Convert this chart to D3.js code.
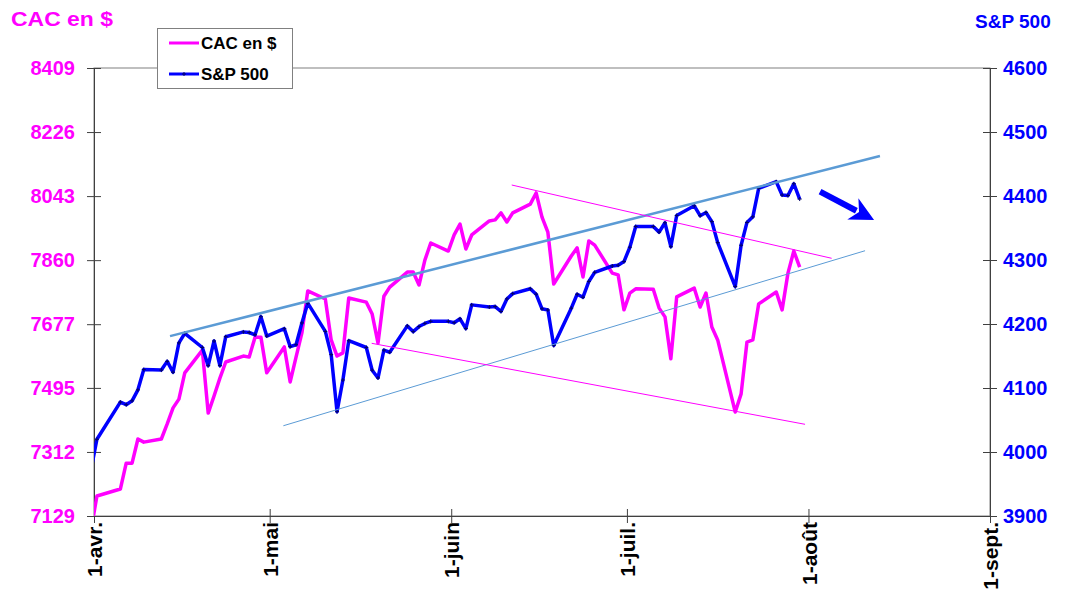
<!DOCTYPE html>
<html>
<head>
<meta charset="utf-8">
<script src="https://d3js.org/d3.v7.min.js"></script>
<style>
  body { margin: 0; background: #fff; }
  svg { display: block; font-family: Arial, 'Liberation Sans', sans-serif; }
</style>
</head>
<body>
<svg id="chart" width="1068" height="594"></svg>
<script>
// séances (union Paris / New York), mars -> juillet 2021
const dates = [
  '2021-03-31', '2021-04-01', '2021-04-05', '2021-04-06', '2021-04-07', '2021-04-08', '2021-04-09',
  '2021-04-12', '2021-04-13', '2021-04-14', '2021-04-15', '2021-04-16', '2021-04-19', '2021-04-20',
  '2021-04-21', '2021-04-22', '2021-04-23', '2021-04-26', '2021-04-27', '2021-04-28', '2021-04-29',
  '2021-04-30', '2021-05-03', '2021-05-04', '2021-05-05', '2021-05-06', '2021-05-07', '2021-05-10',
  '2021-05-11', '2021-05-12', '2021-05-13', '2021-05-14', '2021-05-17', '2021-05-18', '2021-05-19',
  '2021-05-20', '2021-05-21', '2021-05-24', '2021-05-25', '2021-05-26', '2021-05-27', '2021-05-28',
  '2021-05-31', '2021-06-01', '2021-06-02', '2021-06-03', '2021-06-04', '2021-06-07', '2021-06-08',
  '2021-06-09', '2021-06-10', '2021-06-11', '2021-06-14', '2021-06-15', '2021-06-16', '2021-06-17',
  '2021-06-18', '2021-06-21', '2021-06-22', '2021-06-23', '2021-06-24', '2021-06-25', '2021-06-28',
  '2021-06-29', '2021-06-30', '2021-07-01', '2021-07-02', '2021-07-05', '2021-07-06', '2021-07-07',
  '2021-07-08', '2021-07-09', '2021-07-12', '2021-07-13', '2021-07-14', '2021-07-15', '2021-07-16',
  '2021-07-19', '2021-07-20', '2021-07-21', '2021-07-22', '2021-07-23', '2021-07-26', '2021-07-27',
  '2021-07-28', '2021-07-29', '2021-07-30',
]

const cacUsd = [
  7090, 7186, 7206, 7280, 7280, 7349, 7340,
  7349, 7392, 7438, 7463, 7538, 7603, 7423,
  7472, 7523, 7569, 7586, 7583, 7640, 7640,
  7538, 7612, 7512, 7583, 7652, 7772, 7749,
  7632, 7586, 7595, 7752, 7740, 7706, 7623,
  7757, 7783, 7826, 7826, 7789, 7860, 7909,
  7886, 7932, 7963, 7892, 7932, 7972, 7975,
  7995, 7969, 7995, 8020, 8052, 7983, 7940,
  7792, 7872, 7895, 7812, 7915, 7903, 7823,
  7818, 7718, 7766, 7778, 7777, 7723, 7698,
  7578, 7755, 7780, 7726, 7766, 7669, 7632,
  7426, 7478, 7626, 7632, 7735, 7769, 7718,
  7823, 7886, 7840,
]

const sp500 = [
  3972.89, 4019.87, 4077.91, 4073.94, 4079.95, 4097.17, 4128.80,
  4127.99, 4141.59, 4124.66, 4170.42, 4185.47, 4163.26, 4134.94,
  4173.42, 4134.98, 4180.17, 4187.62, 4186.72, 4183.18, 4211.47,
  4181.17, 4192.66, 4164.66, 4167.59, 4201.62, 4232.60, 4188.43,
  4152.10, 4063.04, 4112.50, 4173.85, 4163.29, 4127.83, 4115.68,
  4159.12, 4155.86, 4197.05, 4188.13, 4195.99, 4200.88, 4204.11,
  4204.11, 4202.04, 4208.12, 4192.85, 4229.89, 4226.52, 4227.26,
  4219.55, 4239.18, 4247.44, 4255.15, 4246.59, 4223.70, 4221.86,
  4166.45, 4224.79, 4246.44, 4241.84, 4266.49, 4280.70, 4290.61,
  4291.80, 4297.50, 4319.94, 4352.34, 4352.34, 4343.54, 4358.13,
  4320.82, 4369.55, 4384.63, 4369.21, 4374.30, 4360.03, 4327.16,
  4258.49, 4323.06, 4358.69, 4367.48, 4411.79, 4422.30, 4401.46,
  4400.64, 4419.15, 4395.26,
]

const cacTicks = [7129, 7312, 7495, 7677, 7860, 8043, 8226, 8409]
const spTicks = [3900, 4000, 4100, 4200, 4300, 4400, 4500, 4600]
const monthTicks = ['2021-04-01', '2021-05-01', '2021-06-01', '2021-07-01', '2021-08-01', '2021-09-01']
const monthLabels = ['1-avr.', '1-mai', '1-juin', '1-juil.', '1-août', '1-sept.']

// tendances tracées à la main sur le graphique : [date, valeur]
const spTrendUpper = [['2021-04-13T23:30', 4181], ['2021-08-13T05:00', 4462.5]]
const spTrendLower = [['2021-05-03T08:00', 4041], ['2021-08-10T16:00', 4314.5]]
const cacTrendUpper = [['2021-06-11T08:00', 8074.7], ['2021-08-04T23:00', 7865.3]]
const cacTrendLower = [['2021-05-18T10:00', 7622.4], ['2021-07-31T10:00', 7391]]
const spArrow = [['2021-08-02T23:30', 4406.7], ['2021-08-12T05:00', 4362.5]]

const PINK = '#ff00ff'
const BLUE = '#0000ff'

const margin = { top: 68, right: 78, bottom: 78, left: 94 }
const width = 1068
const height = 594
const innerW = width - margin.left - margin.right
const innerH = height - margin.top - margin.bottom

const parseDay = d3.timeParse('%Y-%m-%d')
const parseTime = d3.timeParse('%Y-%m-%dT%H:%M')

const svg = d3.select('#chart')

const x = d3.scaleTime()
  .domain([parseDay('2021-04-01'), parseDay('2021-09-01')])
  .range([margin.left, margin.left + innerW])
const yCac = d3.scaleLinear().domain([7129, 8409]).range([margin.top + innerH, margin.top])
const ySp = d3.scaleLinear().domain([3900, 4600]).range([margin.top + innerH, margin.top])

// excel place chaque point au milieu de sa journée
const mid = d => d3.timeHour.offset(d, 12)

const rows = dates.map((d, i) => ({ date: parseDay(d), cac: cacUsd[i], sp: sp500[i] }))

svg.append('defs').append('clipPath')
  .attr('id', 'plot-clip')
  .append('rect')
  .attr('x', margin.left)
  .attr('y', margin.top)
  .attr('width', innerW)
  .attr('height', innerH)

// cadre de la zone de tracé
svg.append('rect')
  .attr('x', margin.left)
  .attr('y', margin.top)
  .attr('width', innerW)
  .attr('height', innerH)
  .attr('fill', 'none')
  .attr('stroke', '#808080')
  .attr('stroke-width', 1)

// axe gauche (CAC en $)
const leftAxis = svg.append('g')
  .attr('transform', `translate(${margin.left},0)`)
  .call(d3.axisLeft(yCac).tickValues(cacTicks).tickSize(0).tickPadding(19).tickFormat(d3.format('d')))
leftAxis.select('.domain').attr('stroke', '#404040')
leftAxis.selectAll('.tick').append('line')
  .attr('x1', -7).attr('x2', 7)
  .attr('stroke', '#404040')
leftAxis.selectAll('.tick text')
  .attr('fill', PINK)
  .style('font-size', '20px')
  .style('font-weight', 'bold')

// axe droit (S&P 500)
const rightAxis = svg.append('g')
  .attr('transform', `translate(${margin.left + innerW},0)`)
  .call(d3.axisRight(ySp).tickValues(spTicks).tickSize(0).tickPadding(13).tickFormat(d3.format('d')))
rightAxis.select('.domain').attr('stroke', '#404040')
rightAxis.selectAll('.tick').append('line')
  .attr('x1', -7).attr('x2', 7)
  .attr('stroke', '#404040')
rightAxis.selectAll('.tick text')
  .attr('fill', BLUE)
  .style('font-size', '20px')
  .style('font-weight', 'bold')

// axe des dates
const bottomAxis = svg.append('g')
  .attr('transform', `translate(0,${margin.top + innerH})`)
  .call(d3.axisBottom(x)
    .tickValues(monthTicks.map(parseDay))
    .tickSize(0)
    .tickFormat((d, i) => monthLabels[i]))
bottomAxis.select('.domain').attr('stroke', '#404040')
bottomAxis.selectAll('.tick').append('line')
  .attr('y1', -7).attr('y2', 7)
  .attr('stroke', '#404040')
bottomAxis.selectAll('.tick text')
  .attr('fill', '#000')
  .attr('transform', 'rotate(-90)')
  .attr('text-anchor', 'end')
  .attr('x', -6)
  .attr('y', 0)
  .attr('dy', '0.36em')
  .style('font-size', '21px')
  .style('font-weight', 'bold')

// séries
const plot = svg.append('g').attr('clip-path', 'url(#plot-clip)')

const cacLine = d3.line()
  .x(d => x(mid(d.date)))
  .y(d => yCac(d.cac))
const spLine = d3.line()
  .x(d => x(mid(d.date)))
  .y(d => ySp(d.sp))

plot.append('path')
  .datum(rows)
  .attr('fill', 'none')
  .attr('stroke', PINK)
  .attr('stroke-width', 3.5)
  .attr('stroke-linejoin', 'round')
  .attr('d', cacLine)

plot.append('path')
  .datum(rows)
  .attr('fill', 'none')
  .attr('stroke', BLUE)
  .attr('stroke-width', 3.5)
  .attr('stroke-linejoin', 'round')
  .attr('d', spLine)

// petits marqueurs "+" de la série S&P
plot.selectAll('.sp-marker')
  .data(rows)
  .join('path')
  .attr('class', 'sp-marker')
  .attr('d', d => {
    const px = x(mid(d.date))
    const py = ySp(d.sp)
    return `M${px - 2},${py}H${px + 2}M${px},${py - 2}V${py + 2}`
  })
  .attr('stroke', '#000066')
  .attr('stroke-width', 1)

// tendances
const trendPath = (pts, y) => d3.line()
  .x(p => x(parseTime(p[0])))
  .y(p => y(p[1]))(pts)

svg.append('path')
  .attr('d', trendPath(spTrendUpper, ySp))
  .attr('stroke', '#5b9bd5')
  .attr('stroke-width', 2.5)
svg.append('path')
  .attr('d', trendPath(spTrendLower, ySp))
  .attr('stroke', '#5b9bd5')
  .attr('stroke-width', 1)
svg.append('path')
  .attr('d', trendPath(cacTrendUpper, yCac))
  .attr('stroke', PINK)
  .attr('stroke-width', 1)
svg.append('path')
  .attr('d', trendPath(cacTrendLower, yCac))
  .attr('stroke', PINK)
  .attr('stroke-width', 1)

// flèche de baisse attendue
const a0 = [x(parseTime(spArrow[0][0])), ySp(spArrow[0][1])]
const a1 = [x(parseTime(spArrow[1][0])), ySp(spArrow[1][1])]
const ang = Math.atan2(a1[1] - a0[1], a1[0] - a0[0])
const headLen = 24
const headHalf = 12
const base = [a1[0] - headLen * Math.cos(ang), a1[1] - headLen * Math.sin(ang)]
svg.append('line')
  .attr('x1', a0[0]).attr('y1', a0[1])
  .attr('x2', base[0] + 4 * Math.cos(ang)).attr('y2', base[1] + 4 * Math.sin(ang))
  .attr('stroke', BLUE)
  .attr('stroke-width', 6)
svg.append('path')
  .attr('d', `M${a1[0]},${a1[1]}`
    + `L${base[0] + headHalf * Math.sin(ang)},${base[1] - headHalf * Math.cos(ang)}`
    + `L${base[0] + 7 * Math.cos(ang)},${base[1] + 7 * Math.sin(ang)}`
    + `L${base[0] - headHalf * Math.sin(ang)},${base[1] + headHalf * Math.cos(ang)}Z`)
  .attr('fill', BLUE)

// titres des axes
svg.append('text')
  .attr('x', 11)
  .attr('y', 26)
  .attr('fill', PINK)
  .attr('textLength', 102)
  .attr('lengthAdjust', 'spacingAndGlyphs')
  .style('font-size', '21px')
  .style('font-weight', 'bold')
  .text('CAC en $')

svg.append('text')
  .attr('x', 975)
  .attr('y', 28)
  .attr('fill', BLUE)
  .style('font-size', '19px')
  .style('font-weight', 'bold')
  .text('S&P 500')

// légende
const legend = svg.append('g')
legend.append('rect')
  .attr('x', 157.5).attr('y', 28.5)
  .attr('width', 135).attr('height', 60)
  .attr('fill', '#fff')
  .attr('stroke', '#808080')
const legendItems = [
  { label: 'CAC en $', color: PINK, marker: false },
  { label: 'S&P 500', color: BLUE, marker: true },
]
legendItems.forEach((item, i) => {
  const ly = 43 + i * 31
  legend.append('line')
    .attr('x1', 169).attr('x2', 199)
    .attr('y1', ly).attr('y2', ly)
    .attr('stroke', item.color)
    .attr('stroke-width', 3)
  if (item.marker) {
    legend.append('path')
      .attr('d', `M182,${ly}H186M184,${ly - 2}V${ly + 2}`)
      .attr('stroke', '#000066')
  }
  legend.append('text')
    .attr('x', 201)
    .attr('y', ly)
    .attr('dy', '0.36em')
    .attr('fill', '#000')
    .style('font-size', '17px')
    .style('font-weight', 'bold')
    .text(item.label)
})
</script>
</body>
</html>
